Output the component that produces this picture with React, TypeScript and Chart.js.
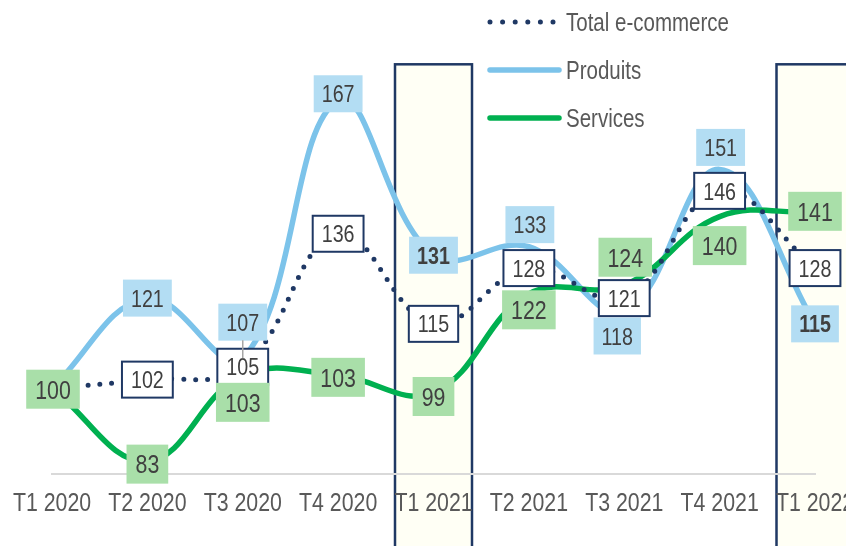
import React, { useEffect, useRef } from 'react';
import { Chart, registerables } from 'chart.js';

Chart.register(...registerables);

// ---------- data ----------
const categories = ['T1 2020', 'T2 2020', 'T3 2020', 'T4 2020', 'T1 2021', 'T2 2021', 'T3 2021', 'T4 2021', 'T1 2022'];
const totalValues = [100, 102, 105, 136, 115, 128, 121, 146, 128];
const produitsValues = [100, 121, 107, 167, 131, 133, 118, 151, 115];
const servicesValues = [100, 83, 103, 103, 99, 122, 124, 140, 141];
const seriesNames = ['Total e-commerce', 'Produits', 'Services'];
const highlightCategories = ['T1 2021', 'T1 2022'];
const yMin = 80;
const yMax = 180;

// ---------- label placement (pixel offsets from the point; null = label hidden) ----------
const totalLabelOffsets: ([number, number] | null)[] = [null, [0, 0], [0, 0], [0, 0], [0, 0], [0, 0], [0, 0], [0, 0], [0, 0]];
const produitsLabelOffsets: ([number, number] | null)[] = [null, [0, 0], [0, -36], [0, -7], [0, 0], [1, -22], [-7, 25], [1, -22], [0, 0]];
const servicesLabelOffsets: ([number, number] | null)[] = [[1, 1], [0, 3], [0, 27], [0, 2], [0, 4], [0, 16], [1, -28], [0, 29], [0, -1]];
const produitsLeaderCategories = ['T3 2020'];

// ---------- styles ----------
const FONT = "'Liberation Sans', Arial, sans-serif";
const SX = 0.82; // horizontal compression -> narrow face
const NAVY = '#1F3864';
const BLUE = '#7CC3EA';
const BLUE_BG = '#B3DDF3';
const GREEN = '#00B050';
const GREEN_BG = '#A9DFA9';
const TEXT = '#404040';
const AXIS_TEXT = '#595959';

function narrowText(ctx: CanvasRenderingContext2D, text: string, x: number, y: number, align: CanvasTextAlign) {
  ctx.save();
  ctx.translate(x, y);
  ctx.scale(SX, 1);
  ctx.textAlign = align;
  ctx.textBaseline = 'alphabetic';
  ctx.fillText(text, 0, 0);
  ctx.restore();
}

type BoxStyle = { bg: string; border?: string; padX: number; h: number; size: number; bold?: boolean };

function drawBox(ctx: CanvasRenderingContext2D, text: string, cx: number, cy: number, s: BoxStyle) {
  ctx.font = `${s.bold ? 'bold ' : ''}${s.size}px ${FONT}`;
  const tw = ctx.measureText(text).width * SX;
  const w = tw + 2 * s.padX;
  const h = s.h;
  ctx.fillStyle = s.bg;
  ctx.fillRect(cx - w / 2, cy - h / 2, w, h);
  if (s.border) {
    ctx.strokeStyle = s.border;
    ctx.lineWidth = 2;
    ctx.strokeRect(cx - w / 2, cy - h / 2, w, h);
  }
  ctx.fillStyle = TEXT;
  narrowText(ctx, text, cx, cy + s.size * 0.36, 'center');
}

const highlightPlugin = {
  id: 'highlightColumns',
  beforeDraw(chart: any) {
    const { ctx, scales } = chart;
    const x = scales.x;
    const y = scales.y;
    ctx.save();
    highlightCategories.forEach((c) => {
      const cx = x.getPixelForValue(categories.indexOf(c));
      const half = 38.5;
      const top = y.getPixelForValue(175.5);
      const bottom = chart.height + 5;
      ctx.fillStyle = '#FFFFF5';
      ctx.fillRect(cx - half, top, 2 * half, bottom - top);
      ctx.strokeStyle = NAVY;
      ctx.lineWidth = 2.5;
      ctx.strokeRect(cx - half, top, 2 * half, bottom - top);
    });
    ctx.restore();
  },
};

const tickPlugin = {
  id: 'narrowTicks',
  afterDraw(chart: any) {
    const { ctx, scales } = chart;
    const x = scales.x;
    ctx.save();
    ctx.fillStyle = AXIS_TEXT;
    ctx.font = `26px ${FONT}`;
    categories.forEach((c, i) => {
      narrowText(ctx, c, x.getPixelForValue(i), x.top + 37, 'center');
    });
    ctx.restore();
  },
};

const labelsPlugin = {
  id: 'boxLabels',
  afterDraw(chart: any) {
    const { ctx, scales } = chart;
    const x = scales.x;
    const y = scales.y;
    ctx.save();
    const pos = (i: number, v: number, off: [number, number]) => [x.getPixelForValue(i) + off[0], y.getPixelForValue(v) + off[1]];

    // Produits
    produitsValues.forEach((v, i) => {
      const off = produitsLabelOffsets[i];
      if (!off) return;
      const [cx, cy] = pos(i, v, off);
      const bold = highlightCategories.includes(categories[i]);
      drawBox(ctx, String(v), cx, cy, { bg: BLUE_BG, padX: 8, h: 37, size: 24, bold });
    });
    // Total
    totalValues.forEach((v, i) => {
      const off = totalLabelOffsets[i];
      if (!off) return;
      const [cx, cy] = pos(i, v, off);
      drawBox(ctx, String(v), cx, cy, { bg: '#FFFFFF', border: NAVY, padX: 9, h: 36, size: 24 });
    });
    // leader lines
    produitsLeaderCategories.forEach((c) => {
      const i = categories.indexOf(c);
      const off = produitsLabelOffsets[i];
      if (!off) return;
      const px = x.getPixelForValue(i);
      const py = y.getPixelForValue(produitsValues[i]);
      ctx.strokeStyle = '#A6A6A6';
      ctx.lineWidth = 1.5;
      ctx.beginPath();
      ctx.moveTo(px + off[0], py + off[1] + 18);
      ctx.lineTo(px, py);
      ctx.stroke();
    });
    // Services
    servicesValues.forEach((v, i) => {
      const off = servicesLabelOffsets[i];
      if (!off) return;
      const [cx, cy] = pos(i, v, off);
      drawBox(ctx, String(v), cx, cy, { bg: GREEN_BG, padX: 9, h: 39, size: 26 });
    });

    // Legend
    const lx0 = 490;
    const lx1 = 559;
    const tx = 566;
    const rows = [22, 70, 118];
    ctx.lineCap = 'round';
    ctx.strokeStyle = NAVY;
    ctx.lineWidth = 5;
    ctx.setLineDash([0, 12.6]);
    ctx.beginPath();
    ctx.moveTo(lx0, rows[0]);
    ctx.lineTo(lx0 + 12.6 * 5 + 0.1, rows[0]);
    ctx.stroke();
    ctx.setLineDash([]);
    ctx.strokeStyle = BLUE;
    ctx.lineWidth = 5.5;
    ctx.beginPath();
    ctx.moveTo(lx0, rows[1]);
    ctx.lineTo(lx1, rows[1]);
    ctx.stroke();
    ctx.strokeStyle = GREEN;
    ctx.beginPath();
    ctx.moveTo(lx0, rows[2]);
    ctx.lineTo(lx1, rows[2]);
    ctx.stroke();
    ctx.fillStyle = AXIS_TEXT;
    ctx.font = `25px ${FONT}`;
    seriesNames.forEach((n, k) => {
      narrowText(ctx, n, tx, rows[k] + 25 * 0.36, 'left');
    });
    ctx.restore();
  },
};

export default function App() {
  const ref = useRef<HTMLCanvasElement>(null);
  useEffect(() => {
    document.body.style.margin = '0';
    const chart = new Chart(ref.current as HTMLCanvasElement, {
      type: 'line',
      data: {
        labels: categories,
        datasets: [
          {
            label: seriesNames[0],
            data: totalValues,
            borderColor: NAVY,
            borderWidth: 5,
            borderDash: [0, 12],
            borderCapStyle: 'round',
            tension: 0.4,
            pointRadius: 0,
            fill: false,
            order: 0,
          },
          {
            label: seriesNames[1],
            data: produitsValues,
            borderColor: BLUE,
            borderWidth: 5.5,
            tension: 0.4,
            pointRadius: 0,
            fill: false,
            order: 2,
          },
          {
            label: seriesNames[2],
            data: servicesValues,
            borderColor: GREEN,
            borderWidth: 5.5,
            tension: 0.4,
            pointRadius: 0,
            fill: false,
            order: 1,
          },
        ],
      },
      options: {
        responsive: false,
        animation: false,
        devicePixelRatio: 1,
        layout: { padding: { left: 52, right: 65, top: 45, bottom: 32 } },
        plugins: { legend: { display: false }, tooltip: { enabled: false } },
        scales: {
          x: {
            type: 'category',
            offset: false,
            grid: { display: false, drawTicks: false },
            border: { display: true, color: '#D9D9D9', width: 2 },
            ticks: { display: false },
            afterFit: (s: any) => {
              s.paddingLeft = 0;
              s.paddingRight = 0;
              s.height = 40;
            },
          },
          y: { display: false, min: yMin, max: yMax },
        },
      },
      plugins: [highlightPlugin, tickPlugin, labelsPlugin],
    } as any);
    return () => chart.destroy();
  }, []);
  return (
    <div style={{ position: 'fixed', left: 0, top: 0, width: 846, height: 546, overflow: 'hidden', background: '#fff' }}>
      <canvas ref={ref} width={880} height={546} style={{ display: 'block', width: 880, height: 546 }} />
    </div>
  );
}
